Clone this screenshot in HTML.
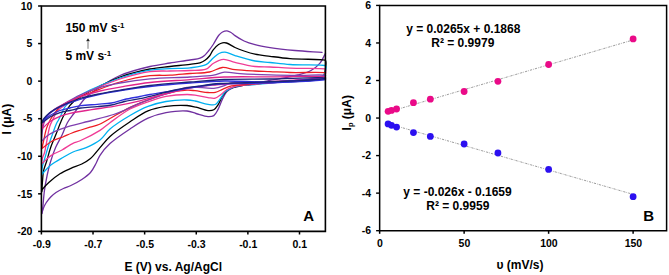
<!DOCTYPE html>
<html><head><meta charset="utf-8"><style>
html,body{margin:0;padding:0;background:#fff;width:669px;height:275px;overflow:hidden;}
svg{display:block;font-family:"Liberation Sans", sans-serif;}
</style></head><body>
<svg width="669" height="275" viewBox="0 0 669 275" font-family='"Liberation Sans", sans-serif' font-weight="bold" fill="#000">
<path d="M41.80,213.50 C42.03,212.33 42.25,211.64 42.50,210.00 C43.07,206.19 43.58,196.91 44.40,190.90 C45.14,185.48 46.07,180.40 47.10,175.50 C48.05,170.97 48.97,166.95 50.30,162.50 C51.75,157.64 53.55,152.25 55.60,147.50 C57.57,142.94 60.27,138.78 62.30,134.50 C64.22,130.45 65.42,126.17 67.50,122.50 C69.46,119.04 71.77,116.49 74.30,113.00 C77.43,108.67 80.69,102.79 84.90,98.50 C89.22,94.09 94.48,90.66 100.00,87.00 C106.08,82.96 112.45,78.75 120.00,75.50 C128.80,71.71 140.95,68.64 150.00,66.50 C157.28,64.78 163.33,64.08 170.00,63.00 C176.66,61.92 184.48,60.91 190.00,60.00 C193.91,59.35 197.39,59.18 200.00,58.20 C201.87,57.50 203.12,56.64 204.50,55.50 C205.97,54.28 207.16,52.68 208.50,51.00 C210.05,49.07 211.63,46.88 213.20,44.50 C215.00,41.78 216.78,37.71 218.60,35.50 C219.89,33.94 221.05,32.78 222.50,32.00 C223.87,31.26 225.56,30.70 227.00,30.80 C228.39,30.90 229.71,31.75 231.00,32.50 C232.39,33.31 233.35,34.48 235.00,35.60 C237.38,37.22 240.85,39.50 244.10,41.00 C247.49,42.56 251.04,43.65 255.00,44.70 C259.56,45.91 264.35,46.73 270.00,47.60 C277.26,48.72 286.50,49.71 295.00,50.50 C303.82,51.32 313.00,51.77 322.00,52.40" fill="none" stroke="#7030A0" stroke-width="1.3" stroke-linejoin="round" stroke-linecap="round"/>
<path d="M325.50,53.20 C323.67,56.53 322.40,60.32 320.00,63.20 C317.58,66.10 314.47,68.57 311.00,70.50 C307.22,72.60 302.73,73.71 298.00,75.00 C292.53,76.49 285.73,77.47 280.00,78.60 C274.77,79.63 269.48,80.51 265.00,81.50 C261.32,82.32 258.35,83.42 255.00,84.00 C251.69,84.58 248.02,84.53 245.00,85.00 C242.45,85.40 240.16,85.96 238.00,86.50 C236.10,86.97 234.45,87.23 232.70,88.00 C230.75,88.86 228.54,89.94 226.90,91.60 C225.07,93.46 223.87,96.21 222.50,98.90 C220.94,101.97 219.80,106.15 218.20,109.10 C216.85,111.59 215.68,114.39 213.80,115.60 C212.17,116.65 210.27,116.69 208.00,116.60 C204.71,116.46 199.71,114.49 196.00,113.50 C192.78,112.64 190.66,111.35 187.00,111.00 C181.50,110.48 172.66,111.43 166.00,112.70 C159.70,113.90 153.85,115.60 148.00,118.20 C141.83,120.95 136.07,124.98 130.00,129.00 C123.41,133.37 115.30,138.69 110.00,143.60 C105.82,147.47 102.43,151.60 100.00,155.30 C98.13,158.15 97.51,160.74 96.00,163.50 C94.37,166.47 92.82,169.86 90.50,172.50 C88.11,175.22 84.96,177.38 81.80,179.50 C78.46,181.74 74.24,183.92 70.90,185.50 C68.21,186.77 65.86,187.35 63.40,188.50 C60.89,189.68 58.19,191.00 56.00,192.50 C54.01,193.86 52.33,195.30 50.70,197.00 C48.99,198.78 47.25,201.03 46.00,203.00 C44.93,204.69 44.20,206.26 43.50,208.00 C42.79,209.76 42.37,211.67 41.80,213.50" fill="none" stroke="#7030A0" stroke-width="1.3" stroke-linejoin="round" stroke-linecap="round"/>
<path d="M41.80,191.70 C42.07,187.80 42.29,183.64 42.60,180.00 C42.87,176.80 42.86,174.07 43.50,171.00 C44.20,167.65 45.69,164.32 46.80,160.70 C48.02,156.70 49.01,152.31 50.50,148.00 C52.10,143.36 54.39,138.37 56.20,133.80 C57.88,129.56 59.24,125.49 61.00,121.50 C62.74,117.56 64.43,113.47 66.70,110.00 C68.86,106.70 72.00,103.09 74.20,101.10 C75.58,99.85 76.61,99.42 78.00,98.50 C79.66,97.41 81.15,96.39 83.50,95.00 C87.50,92.64 94.18,88.89 100.00,86.00 C106.29,82.88 112.54,79.65 120.00,77.00 C128.88,73.84 140.96,70.76 150.00,69.00 C157.29,67.58 163.33,67.28 170.00,66.50 C176.66,65.72 184.48,65.02 190.00,64.30 C193.91,63.79 197.29,63.66 200.00,62.80 C202.01,62.16 203.45,61.39 205.00,60.30 C206.63,59.15 208.17,57.67 209.50,56.00 C210.93,54.20 211.71,51.70 213.20,49.80 C214.73,47.86 216.84,45.69 218.60,44.50 C219.92,43.61 221.16,43.04 222.50,42.80 C223.80,42.56 224.97,42.58 226.50,43.00 C228.87,43.65 232.09,46.17 235.00,47.50 C237.92,48.84 240.82,49.92 244.00,51.00 C247.46,52.17 251.02,53.35 255.00,54.20 C259.58,55.18 264.64,55.62 270.00,56.30 C276.18,57.09 282.39,58.00 290.00,58.60 C300.03,59.39 322.32,59.22 325.00,60.10 C325.38,60.23 325.45,60.21 325.60,60.50 C326.15,61.56 325.75,67.22 325.30,70.00 C324.93,72.26 324.83,74.46 323.50,76.00 C321.97,77.77 319.05,78.65 316.00,79.50 C311.74,80.68 305.64,80.76 300.00,81.20 C293.71,81.69 286.19,81.88 280.00,82.20 C274.64,82.48 270.00,82.62 265.00,83.00 C260.00,83.38 254.72,83.93 250.00,84.50 C245.77,85.01 241.74,85.30 238.00,86.20 C234.58,87.02 231.04,87.76 228.40,89.50 C225.95,91.12 224.17,93.55 222.50,96.00 C220.74,98.58 219.81,102.27 218.20,104.70 C216.86,106.73 215.58,108.83 213.80,109.80 C212.14,110.70 210.26,110.76 208.00,110.60 C204.70,110.37 199.73,108.08 196.00,107.20 C192.80,106.45 190.64,105.76 187.00,105.50 C181.48,105.10 172.68,105.43 166.00,106.40 C159.72,107.31 153.82,108.47 148.00,110.90 C141.80,113.48 136.07,117.76 130.00,121.80 C123.42,126.19 115.33,131.57 110.00,136.40 C105.85,140.16 103.28,143.88 100.00,147.60 C96.78,151.25 93.81,155.66 90.50,158.50 C87.70,160.90 84.94,162.39 81.80,164.00 C78.44,165.72 74.50,166.78 70.90,168.40 C67.24,170.04 63.52,171.58 60.00,173.80 C56.24,176.16 52.18,179.45 49.10,182.30 C46.51,184.69 43.54,187.70 42.50,189.50 C41.99,190.38 42.03,190.97 41.80,191.70" fill="none" stroke="#000000" stroke-width="1.3" stroke-linejoin="round" stroke-linecap="round"/>
<path d="M41.60,174.50 C41.90,171.67 41.96,168.67 42.50,166.00 C43.00,163.53 43.78,161.77 44.60,159.00 C45.80,154.94 47.47,148.70 49.00,144.00 C50.38,139.76 51.96,135.65 53.30,132.00 C54.43,128.92 55.47,125.68 56.50,123.50 C57.18,122.05 57.79,121.33 58.50,120.00 C59.42,118.28 60.52,116.05 61.50,114.00 C62.52,111.88 63.16,109.50 64.50,107.50 C65.90,105.42 67.95,103.40 69.80,101.80 C71.47,100.36 72.77,99.57 75.00,98.20 C78.66,95.94 84.04,92.81 90.00,90.00 C98.19,86.14 109.89,81.32 120.00,78.00 C129.90,74.75 140.95,71.73 150.00,70.20 C157.28,68.97 163.33,69.00 170.00,68.60 C176.66,68.20 183.73,68.53 190.00,67.80 C195.66,67.14 201.93,66.77 206.00,64.70 C209.16,63.09 210.89,59.97 213.20,58.00 C215.20,56.30 216.93,54.46 219.00,53.50 C220.89,52.62 222.77,52.07 225.00,52.20 C227.93,52.37 231.07,54.40 235.00,55.60 C240.50,57.28 248.77,59.86 255.00,61.00 C260.32,61.98 264.64,61.96 270.00,62.50 C276.19,63.12 282.40,64.01 290.00,64.50 C300.04,65.14 322.31,64.82 325.00,65.50 C325.37,65.59 325.46,65.56 325.60,65.80 C326.03,66.54 325.86,70.08 325.20,72.00 C324.52,73.99 323.44,76.18 321.50,77.50 C318.92,79.25 314.39,79.36 310.00,80.00 C304.27,80.83 296.19,81.06 290.00,81.50 C284.64,81.88 280.36,82.05 275.00,82.50 C268.81,83.02 261.19,83.98 255.00,84.50 C249.64,84.95 244.09,84.86 240.00,85.50 C237.11,85.95 235.06,86.33 232.70,87.30 C230.21,88.32 227.62,89.68 225.50,91.60 C223.20,93.69 221.46,97.29 219.60,99.60 C218.10,101.47 217.15,103.69 215.30,104.50 C213.34,105.36 210.76,104.68 208.00,104.30 C204.26,103.78 198.83,101.72 195.00,101.00 C192.03,100.44 190.30,100.09 187.00,100.00 C181.66,99.86 172.68,100.36 166.00,101.50 C159.71,102.57 153.89,104.14 148.00,106.40 C141.88,108.75 136.05,111.95 130.00,115.50 C123.39,119.38 115.31,124.40 110.00,129.00 C105.83,132.61 103.89,136.93 100.00,140.00 C95.99,143.16 90.84,145.57 86.20,147.60 C81.84,149.51 76.98,150.27 73.00,152.00 C69.47,153.53 66.78,155.23 63.40,157.20 C59.47,159.48 54.60,162.02 50.90,165.00 C47.38,167.83 44.70,171.33 41.60,174.50" fill="none" stroke="#00B0F0" stroke-width="1.3" stroke-linejoin="round" stroke-linecap="round"/>
<path d="M41.50,164.00 C41.83,162.00 41.98,159.91 42.50,158.00 C43.00,156.15 43.88,154.88 44.50,152.70 C45.44,149.41 46.14,144.32 47.00,140.00 C47.90,135.49 48.63,129.84 49.80,126.20 C50.62,123.67 51.49,122.24 52.60,120.00 C53.96,117.26 55.02,113.78 57.50,111.00 C60.64,107.47 66.02,104.61 71.00,101.50 C76.71,97.93 82.83,94.40 90.00,91.00 C98.75,86.85 109.89,82.25 120.00,79.00 C129.89,75.82 140.95,72.84 150.00,71.60 C157.28,70.60 163.33,71.18 170.00,71.00 C176.67,70.82 183.71,70.83 190.00,70.50 C195.63,70.20 201.85,70.85 206.00,69.20 C209.21,67.93 210.68,64.83 213.50,63.20 C216.48,61.48 220.02,59.49 223.50,59.30 C227.17,59.10 230.62,61.36 235.00,62.40 C240.73,63.76 248.78,65.76 255.00,66.50 C260.33,67.13 264.64,66.76 270.00,67.00 C276.19,67.27 282.40,67.82 290.00,68.10 C300.04,68.48 322.31,68.34 325.00,68.80 C325.36,68.86 325.47,68.79 325.60,69.00 C326.00,69.64 325.89,73.45 324.80,75.00 C323.57,76.74 320.91,77.62 318.00,78.50 C313.52,79.85 306.50,79.88 300.00,80.50 C292.35,81.23 282.87,81.89 275.00,82.50 C267.96,83.05 261.18,83.46 255.00,84.00 C249.64,84.47 243.66,85.03 240.00,85.50 C237.88,85.78 236.84,85.80 235.00,86.30 C232.59,86.96 229.28,88.07 226.90,89.50 C224.65,90.85 223.00,93.01 221.00,94.50 C219.13,95.89 217.42,97.67 215.30,98.20 C213.10,98.75 210.77,97.98 208.00,97.60 C204.28,97.09 198.82,95.61 195.00,95.10 C192.02,94.70 190.30,94.47 187.00,94.50 C181.66,94.54 172.67,95.11 166.00,96.40 C159.70,97.62 153.95,99.72 148.00,101.80 C141.95,103.91 135.98,105.81 130.00,109.00 C123.31,112.57 115.48,118.72 110.00,122.70 C106.05,125.57 104.06,127.81 100.00,130.40 C94.52,133.89 84.59,138.85 79.60,141.00 C76.85,142.19 75.41,142.16 73.00,143.30 C69.72,144.85 65.72,147.93 62.00,150.00 C58.35,152.03 54.31,153.28 50.90,155.60 C47.47,157.94 44.63,161.20 41.50,164.00" fill="none" stroke="#F03C96" stroke-width="1.3" stroke-linejoin="round" stroke-linecap="round"/>
<path d="M41.50,148.90 C41.93,147.43 42.29,146.44 42.80,144.50 C43.76,140.83 45.03,132.84 46.50,128.40 C47.60,125.09 48.98,122.37 50.20,120.00 C51.14,118.17 51.77,117.03 53.00,115.30 C54.74,112.86 57.23,109.36 60.00,107.00 C62.87,104.56 66.00,102.98 70.00,101.00 C75.44,98.30 82.64,95.82 90.00,93.00 C98.97,89.56 109.89,84.90 120.00,82.00 C129.90,79.16 140.97,76.75 150.00,75.70 C157.30,74.85 163.34,75.57 170.00,75.20 C176.67,74.83 183.37,74.04 190.00,73.50 C196.54,72.97 203.75,73.21 209.50,72.00 C214.29,70.99 217.99,67.88 222.30,67.50 C226.50,67.13 230.27,69.05 235.00,69.60 C240.90,70.29 248.81,70.66 255.00,71.00 C260.36,71.29 264.64,71.37 270.00,71.60 C276.19,71.86 282.40,72.31 290.00,72.50 C300.04,72.75 322.31,72.06 325.00,72.70 C325.37,72.79 325.55,72.80 325.60,73.00 C325.73,73.56 324.15,75.98 322.50,77.00 C319.88,78.62 314.68,78.86 310.00,79.50 C304.13,80.30 296.67,80.50 290.00,81.00 C283.33,81.50 277.04,81.95 270.00,82.50 C262.13,83.11 252.30,83.78 245.00,84.50 C239.30,85.07 233.89,85.24 229.80,86.30 C226.86,87.06 224.92,88.28 222.50,89.30 C220.09,90.32 217.76,91.87 215.30,92.40 C212.92,92.91 210.77,92.67 208.00,92.50 C204.28,92.27 198.82,91.08 195.00,90.70 C192.02,90.40 190.29,90.04 187.00,90.20 C181.65,90.46 172.66,91.89 166.00,93.60 C159.69,95.22 153.98,97.73 148.00,100.00 C141.97,102.29 136.07,104.39 130.00,107.30 C123.41,110.47 115.69,115.36 110.00,118.50 C105.80,120.82 102.56,123.01 99.00,124.50 C95.92,125.79 93.00,126.28 90.00,127.20 C87.00,128.12 84.00,129.04 81.00,130.00 C78.00,130.97 74.99,131.85 72.00,133.00 C68.92,134.18 66.02,135.67 62.80,137.00 C59.31,138.44 55.29,139.38 51.80,141.30 C48.17,143.30 44.93,146.37 41.50,148.90" fill="none" stroke="#EE1C24" stroke-width="1.3" stroke-linejoin="round" stroke-linecap="round"/>
<path d="M41.50,141.50 C41.63,139.33 41.70,137.16 41.90,135.00 C42.10,132.83 42.25,130.79 42.70,128.50 C43.22,125.84 43.89,122.57 45.00,120.00 C46.03,117.61 47.32,115.34 49.00,113.50 C50.66,111.68 52.96,110.35 55.00,109.00 C56.96,107.70 58.43,106.96 61.00,105.50 C65.55,102.92 73.47,98.01 80.00,95.00 C86.48,92.02 93.26,89.51 100.00,87.50 C106.60,85.53 112.63,84.33 120.00,83.00 C128.96,81.38 139.26,79.89 150.00,78.90 C162.35,77.76 178.42,77.72 190.00,77.00 C198.90,76.45 207.28,76.30 213.60,75.20 C217.97,74.44 220.51,72.56 224.50,72.20 C229.18,71.78 233.98,73.21 240.00,73.60 C248.36,74.14 260.00,74.52 270.00,74.80 C280.00,75.08 290.46,75.22 300.00,75.30 C308.71,75.37 322.79,74.50 325.00,75.30 C325.39,75.44 325.65,75.62 325.60,75.80 C325.32,76.83 308.90,78.98 300.00,80.00 C290.42,81.10 279.55,81.68 270.00,82.00 C261.29,82.29 252.20,81.75 245.00,82.00 C239.51,82.19 234.13,82.14 230.50,83.00 C228.17,83.55 227.18,84.55 225.00,85.30 C221.97,86.34 218.13,87.87 213.90,88.30 C208.47,88.85 199.97,87.13 195.00,87.10 C191.77,87.08 190.25,86.92 187.00,87.50 C181.61,88.45 173.35,91.58 166.00,94.00 C157.77,96.71 147.42,100.10 140.00,103.10 C134.25,105.42 129.68,108.00 125.00,110.00 C120.96,111.72 118.06,113.01 113.60,114.50 C107.55,116.52 99.24,118.52 91.80,120.50 C84.05,122.56 74.84,124.46 68.00,126.60 C62.67,128.27 57.80,129.97 54.00,131.80 C51.19,133.15 49.10,134.36 47.00,136.00 C44.95,137.60 43.33,139.67 41.50,141.50" fill="none" stroke="#8040B0" stroke-width="1.3" stroke-linejoin="round" stroke-linecap="round"/>
<path d="M41.50,129.00 C42.00,127.33 42.34,125.75 43.00,124.00 C43.78,121.95 44.76,119.39 46.00,117.50 C47.13,115.77 48.21,114.57 50.00,113.00 C52.66,110.66 56.71,107.90 61.00,105.50 C66.36,102.50 73.51,99.42 80.00,97.00 C86.50,94.58 92.98,92.72 100.00,91.00 C107.59,89.14 115.83,87.80 124.00,86.40 C132.48,84.95 140.38,83.57 150.00,82.50 C161.88,81.18 177.21,80.55 190.00,79.60 C201.79,78.72 211.80,77.48 224.00,77.00 C238.17,76.44 253.98,76.90 270.00,76.90 C287.51,76.90 321.55,75.75 325.00,77.00 C325.41,77.15 325.65,77.34 325.60,77.50 C325.25,78.61 302.22,79.60 290.00,80.50 C277.06,81.45 262.89,82.23 250.00,83.00 C237.95,83.72 225.67,84.06 215.00,85.00 C205.95,85.80 199.25,86.30 190.00,88.00 C178.17,90.18 158.87,95.60 150.00,98.00 C145.54,99.20 144.15,99.87 140.00,100.90 C133.32,102.56 122.00,104.91 113.60,106.40 C106.01,107.75 99.06,108.43 91.80,109.60 C84.53,110.77 75.84,112.05 70.00,113.40 C65.99,114.33 63.27,114.99 60.00,116.30 C56.60,117.66 52.88,119.49 50.00,121.50 C47.44,123.28 44.95,126.18 43.40,127.50 C42.59,128.19 42.13,128.50 41.50,129.00" fill="none" stroke="#E0248C" stroke-width="1.3" stroke-linejoin="round" stroke-linecap="round"/>
<path d="M41.50,122.50 C42.33,121.33 42.92,120.27 44.00,119.00 C45.52,117.21 47.56,114.89 50.00,113.00 C53.00,110.67 56.73,108.53 61.00,106.50 C66.38,103.95 73.53,101.53 80.00,99.50 C86.53,97.45 93.00,95.83 100.00,94.30 C107.61,92.63 115.83,91.28 124.00,90.00 C132.48,88.67 140.39,87.57 150.00,86.50 C161.89,85.18 177.10,83.93 190.00,83.00 C202.05,82.13 212.60,81.22 225.00,81.00 C239.05,80.75 254.25,82.25 270.00,82.00 C287.42,81.72 321.55,77.86 325.00,79.00 C325.41,79.14 325.65,79.34 325.60,79.50 C325.25,80.59 302.22,81.34 290.00,82.00 C277.06,82.70 262.38,83.16 250.00,83.50 C239.28,83.79 229.13,83.39 220.00,84.00 C212.28,84.52 205.98,85.46 198.70,86.50 C191.00,87.60 183.01,89.18 175.00,90.50 C166.78,91.85 156.45,93.34 150.00,94.50 C145.91,95.24 143.70,95.77 140.00,96.50 C135.40,97.41 129.43,98.37 124.50,99.50 C119.93,100.55 115.88,102.20 111.40,103.00 C106.82,103.82 102.18,103.87 97.30,104.30 C92.04,104.77 85.79,104.98 80.90,105.70 C76.88,106.29 73.55,107.18 70.00,108.00 C66.59,108.79 63.27,109.29 60.00,110.50 C56.60,111.76 53.09,113.49 50.00,115.50 C46.93,117.49 44.33,120.17 41.50,122.50" fill="none" stroke="#3030DC" stroke-width="1.3" stroke-linejoin="round" stroke-linecap="round"/>
<path d="M41.50,123.50 C42.33,121.83 42.81,120.15 44.00,118.50 C45.46,116.47 47.56,114.39 50.00,112.50 C53.00,110.17 56.74,108.08 61.00,106.00 C66.39,103.37 73.51,100.55 80.00,98.50 C86.51,96.44 93.01,95.15 100.00,93.70 C107.61,92.12 115.83,90.84 124.00,89.50 C132.49,88.10 140.38,86.66 150.00,85.50 C161.88,84.07 177.16,83.03 190.00,82.00 C201.92,81.05 212.20,80.01 224.50,79.50 C238.61,78.91 254.12,79.23 270.00,79.00 C287.47,78.75 321.55,76.79 325.00,78.00 C325.41,78.14 325.65,78.34 325.60,78.50 C325.25,79.59 302.22,80.34 290.00,81.00 C277.06,81.70 262.38,82.06 250.00,82.50 C239.28,82.88 229.13,82.79 220.00,83.50 C212.28,84.10 205.98,85.06 198.70,86.10 C191.00,87.20 182.97,88.34 175.00,90.00 C166.74,91.72 156.46,94.71 150.00,96.30 C145.92,97.30 143.71,97.92 140.00,98.70 C135.41,99.66 129.43,100.40 124.50,101.50 C119.93,102.52 115.88,104.15 111.40,105.00 C106.82,105.87 102.18,106.11 97.30,106.60 C92.04,107.12 85.79,107.23 80.90,108.00 C76.87,108.63 73.56,109.72 70.00,110.50 C66.60,111.25 63.28,111.55 60.00,112.60 C56.61,113.69 53.10,115.17 50.00,117.00 C46.94,118.81 44.33,121.33 41.50,123.50" fill="none" stroke="#1C2478" stroke-width="1.3" stroke-linejoin="round" stroke-linecap="round"/>
<path d="M41.40,6.00 H325.40 V231.40 H41.40 Z" fill="none" stroke="#000" stroke-width="1.6"/>
<line x1="38.1" y1="6.00" x2="41.4" y2="6.00" stroke="#000" stroke-width="1.5"/>
<text x="32.4" y="9.80" text-anchor="end" font-size="10.5">10</text>
<line x1="38.1" y1="43.56" x2="41.4" y2="43.56" stroke="#000" stroke-width="1.5"/>
<text x="32.4" y="47.36" text-anchor="end" font-size="10.5">5</text>
<line x1="38.1" y1="81.13" x2="41.4" y2="81.13" stroke="#000" stroke-width="1.5"/>
<text x="32.4" y="84.93" text-anchor="end" font-size="10.5">0</text>
<line x1="38.1" y1="118.69" x2="41.4" y2="118.69" stroke="#000" stroke-width="1.5"/>
<text x="32.4" y="122.49" text-anchor="end" font-size="10.5">-5</text>
<line x1="38.1" y1="156.26" x2="41.4" y2="156.26" stroke="#000" stroke-width="1.5"/>
<text x="32.4" y="160.06" text-anchor="end" font-size="10.5">-10</text>
<line x1="38.1" y1="193.82" x2="41.4" y2="193.82" stroke="#000" stroke-width="1.5"/>
<text x="32.4" y="197.62" text-anchor="end" font-size="10.5">-15</text>
<line x1="38.1" y1="231.39" x2="41.4" y2="231.39" stroke="#000" stroke-width="1.5"/>
<text x="32.4" y="235.19" text-anchor="end" font-size="10.5">-20</text>
<line x1="41.40" y1="231.4" x2="41.40" y2="234.5" stroke="#000" stroke-width="1.5"/>
<text x="41.70" y="248.2" text-anchor="middle" font-size="10.5">-0.9</text>
<line x1="93.02" y1="231.4" x2="93.02" y2="234.5" stroke="#000" stroke-width="1.5"/>
<text x="93.32" y="248.2" text-anchor="middle" font-size="10.5">-0.7</text>
<line x1="144.64" y1="231.4" x2="144.64" y2="234.5" stroke="#000" stroke-width="1.5"/>
<text x="144.94" y="248.2" text-anchor="middle" font-size="10.5">-0.5</text>
<line x1="196.26" y1="231.4" x2="196.26" y2="234.5" stroke="#000" stroke-width="1.5"/>
<text x="196.56" y="248.2" text-anchor="middle" font-size="10.5">-0.3</text>
<line x1="247.88" y1="231.4" x2="247.88" y2="234.5" stroke="#000" stroke-width="1.5"/>
<text x="248.18" y="248.2" text-anchor="middle" font-size="10.5">-0.1</text>
<line x1="299.50" y1="231.4" x2="299.50" y2="234.5" stroke="#000" stroke-width="1.5"/>
<text x="299.80" y="248.2" text-anchor="middle" font-size="10.5">0.1</text>
<text x="173.2" y="271" text-anchor="middle" font-size="12">E (V) vs. Ag/AgCl</text>
<text transform="translate(11.1,134.4) rotate(-90)" font-size="12">I (μA)</text>
<text x="303.2" y="221" font-size="15">A</text>
<text x="65.4" y="31.8" font-size="12">150 mV s<tspan dy="-4" font-size="8">-1</tspan></text>
<text x="65.4" y="59.7" font-size="12">5 mV s<tspan dy="-4" font-size="8">-1</tspan></text>
<path d="M88,48.8 V40" stroke="#777" stroke-width="1" fill="none"/><path d="M86.1,41.3 L88,38.3 L89.9,41.3 Q88,40.6 86.1,41.3 Z" fill="#222"/>
<line x1="388.10" y1="112.06" x2="633.11" y2="39.93" stroke="#707070" stroke-width="0.7" stroke-dasharray="2.2 1.1 0.7 1.1"/>
<line x1="388.10" y1="123.60" x2="633.11" y2="194.37" stroke="#707070" stroke-width="0.7" stroke-dasharray="2.2 1.1 0.7 1.1"/>
<circle cx="388.10" cy="111.30" r="3.4" fill="#EA0A88"/>
<circle cx="391.48" cy="110.40" r="3.4" fill="#EA0A88"/>
<circle cx="396.55" cy="109.00" r="3.4" fill="#EA0A88"/>
<circle cx="413.44" cy="102.70" r="3.4" fill="#EA0A88"/>
<circle cx="430.34" cy="99.20" r="3.4" fill="#EA0A88"/>
<circle cx="464.13" cy="91.50" r="3.4" fill="#EA0A88"/>
<circle cx="497.93" cy="81.30" r="3.4" fill="#EA0A88"/>
<circle cx="548.62" cy="64.50" r="3.4" fill="#EA0A88"/>
<circle cx="633.11" cy="38.90" r="3.4" fill="#EA0A88"/>
<circle cx="388.10" cy="123.90" r="3.4" fill="#2C10F0"/>
<circle cx="391.48" cy="125.30" r="3.4" fill="#2C10F0"/>
<circle cx="396.55" cy="127.10" r="3.4" fill="#2C10F0"/>
<circle cx="413.44" cy="132.60" r="3.4" fill="#2C10F0"/>
<circle cx="430.34" cy="136.40" r="3.4" fill="#2C10F0"/>
<circle cx="464.13" cy="144.00" r="3.4" fill="#2C10F0"/>
<circle cx="497.93" cy="153.00" r="3.4" fill="#2C10F0"/>
<circle cx="548.62" cy="169.40" r="3.4" fill="#2C10F0"/>
<circle cx="633.11" cy="196.70" r="3.4" fill="#2C10F0"/>
<path d="M379.65,5.45 H666.60 V230.65 H379.65 Z" fill="none" stroke="#000" stroke-width="1.5"/>
<line x1="376.1" y1="5.43" x2="379.65" y2="5.43" stroke="#000" stroke-width="1.4"/>
<text x="371.0" y="9.23" text-anchor="end" font-size="10.5">6</text>
<line x1="376.1" y1="42.97" x2="379.65" y2="42.97" stroke="#000" stroke-width="1.4"/>
<text x="371.0" y="46.77" text-anchor="end" font-size="10.5">4</text>
<line x1="376.1" y1="80.51" x2="379.65" y2="80.51" stroke="#000" stroke-width="1.4"/>
<text x="371.0" y="84.31" text-anchor="end" font-size="10.5">2</text>
<line x1="376.1" y1="118.05" x2="379.65" y2="118.05" stroke="#000" stroke-width="1.4"/>
<text x="371.0" y="121.85" text-anchor="end" font-size="10.5">0</text>
<line x1="376.1" y1="155.59" x2="379.65" y2="155.59" stroke="#000" stroke-width="1.4"/>
<text x="371.0" y="159.39" text-anchor="end" font-size="10.5">-2</text>
<line x1="376.1" y1="193.13" x2="379.65" y2="193.13" stroke="#000" stroke-width="1.4"/>
<text x="371.0" y="196.93" text-anchor="end" font-size="10.5">-4</text>
<line x1="376.1" y1="230.67" x2="379.65" y2="230.67" stroke="#000" stroke-width="1.4"/>
<text x="371.0" y="234.47" text-anchor="end" font-size="10.5">-6</text>
<line x1="379.65" y1="230.65" x2="379.65" y2="233.8" stroke="#000" stroke-width="1.5"/>
<text x="379.95" y="247.3" text-anchor="middle" font-size="10.5">0</text>
<line x1="464.13" y1="230.65" x2="464.13" y2="233.8" stroke="#000" stroke-width="1.5"/>
<text x="464.44" y="247.3" text-anchor="middle" font-size="10.5">50</text>
<line x1="548.62" y1="230.65" x2="548.62" y2="233.8" stroke="#000" stroke-width="1.5"/>
<text x="548.92" y="247.3" text-anchor="middle" font-size="10.5">100</text>
<line x1="633.11" y1="230.65" x2="633.11" y2="233.8" stroke="#000" stroke-width="1.5"/>
<text x="633.40" y="247.3" text-anchor="middle" font-size="10.5">150</text>
<text x="520" y="269" text-anchor="middle" font-size="12">υ (mV/s)</text>
<text transform="translate(351.1,130.4) rotate(-90)" font-size="12">I<tspan dy="2" font-size="7.5">p</tspan><tspan dy="-2"> (μA)</tspan></text>
<text x="643.2" y="220.8" font-size="15">B</text>
<text x="463.3" y="33" text-anchor="middle" font-size="12">y = 0.0265x + 0.1868</text>
<text x="462.8" y="46.7" text-anchor="middle" font-size="12">R² = 0.9979</text>
<text x="457.5" y="196.1" text-anchor="middle" font-size="12">y = -0.026x - 0.1659</text>
<text x="457.8" y="210" text-anchor="middle" font-size="12">R² = 0.9959</text>
</svg>
</body></html>
